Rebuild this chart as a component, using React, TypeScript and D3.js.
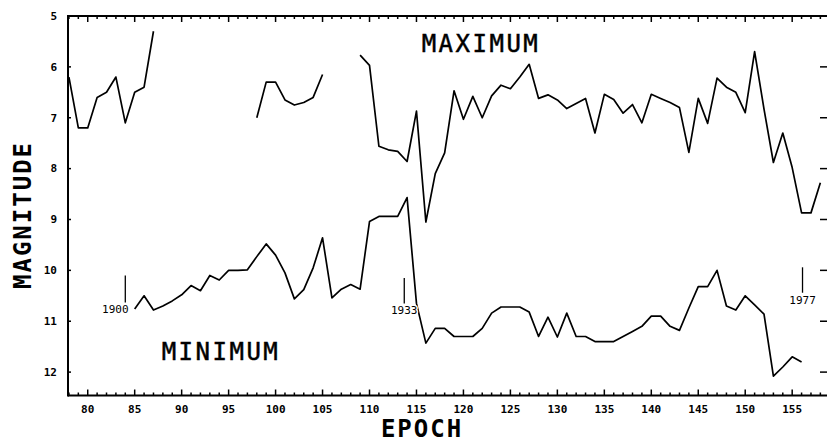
import React from 'react';
import * as d3 from 'd3';

const width = 827;
const height = 442;

// maximum light, three observed stretches
const maxEpochA = [78, 79, 80, 81, 82, 83, 84, 85, 86, 87];
const maxMagA = [6.2, 7.2, 7.2, 6.6, 6.5, 6.2, 7.1, 6.5, 6.4, 5.3];

const maxEpochB = [98, 99, 100, 101, 102, 103, 104, 105];
const maxMagB = [7.0, 6.3, 6.3, 6.65, 6.75, 6.7, 6.6, 6.15];

const maxEpochC = [109, 110, 111, 112, 113, 114, 115, 116, 117, 118, 119, 120, 121, 122, 123, 124, 125, 126, 127, 128, 129, 130, 131, 132, 133, 134, 135, 136, 137, 138, 139, 140, 141, 142, 143, 144, 145, 146, 147, 148, 149, 150, 151, 152, 153, 154, 155, 156, 157, 158];
const maxMagC = [5.77, 5.97, 7.56, 7.63, 7.66, 7.86, 6.87, 9.05, 8.1, 7.69, 6.47, 7.03, 6.58, 7.0, 6.57, 6.36, 6.43, 6.2, 5.95, 6.62, 6.55, 6.65, 6.82, 6.72, 6.62, 7.3, 6.54, 6.64, 6.91, 6.74, 7.1, 6.54, 6.62, 6.7, 6.8, 7.68, 6.62, 7.11, 6.22, 6.4, 6.5, 6.9, 5.7, 6.83, 7.88, 7.3, 7.98, 8.87, 8.87, 8.28];

// minimum light
const minEpoch = [85, 86, 87, 88, 89, 90, 91, 92, 93, 94, 95, 96, 97, 98, 99, 100, 101, 102, 103, 104, 105, 106, 107, 108, 109, 110, 111, 112, 113, 114, 115, 116, 117, 118, 119, 120, 121, 122, 123, 124, 125, 126, 127, 128, 129, 130, 131, 132, 133, 134, 135, 136, 137, 138, 139, 140, 141, 142, 143, 144, 145, 146, 147, 148, 149, 150, 151, 152, 153, 154, 155, 156];
const minMag = [10.76, 10.5, 10.78, 10.7, 10.6, 10.48, 10.3, 10.4, 10.1, 10.19, 10.0, 10.0, 9.99, 9.73, 9.48, 9.7, 10.05, 10.56, 10.38, 9.95, 9.36, 10.54, 10.37, 10.28, 10.37, 9.04, 8.94, 8.94, 8.94, 8.57, 10.65, 11.43, 11.14, 11.14, 11.3, 11.3, 11.3, 11.14, 10.84, 10.72, 10.72, 10.72, 10.82, 11.3, 10.92, 11.31, 10.84, 11.3, 11.3, 11.4, 11.4, 11.4, 11.3, 11.2, 11.1, 10.9, 10.9, 11.1, 11.18, 10.74, 10.32, 10.32, 10.0, 10.7, 10.78, 10.5, 10.68, 10.86, 12.08, 11.9, 11.7, 11.8];

// year markers
const markYears = ['1900', '1933', '1977'];
const markEpochs = [84, 113.7, 156.1];
const markTop = [10.1, 10.15, 9.94];
const markBottom = [10.63, 10.65, 10.44];

const xTicks = d3.range(80, 156, 5);
const yTicks = [5, 6, 7, 8, 9, 10, 11, 12];

const x = d3.scaleLinear().domain([77.9, 158.6]).range([68, 826]);
const y = d3.scaleLinear().domain([5, 12.46]).range([16, 395.5]);

const line = d3.line<[number, number]>()
  .x(d => x(d[0]))
  .y(d => y(d[1]));

const zip = (a: number[], b: number[]) => a.map((v, i) => [v, b[i]] as [number, number]);

const mono = '"DejaVu Sans Mono", monospace';

const App = () => {
  const series = [
    zip(maxEpochA, maxMagA),
    zip(maxEpochB, maxMagB),
    zip(maxEpochC, maxMagC),
    zip(minEpoch, minMag),
  ];
  const minorTicks = d3.range(78, 159);
  const x0 = 68, yTop = 16, yBot = 395.5;

  return (
    <svg width={width} height={height} style={{ position: 'absolute', left: 0, top: 0, background: '#fff' }}>
      {/* data */}
      {series.map((s, i) => (
        <path key={i} d={line(s) || ''} fill="none" stroke="#000" strokeWidth={1.7} strokeLinejoin="round" />
      ))}

      {/* year markers */}
      {markYears.map((yr, i) => (
        <g key={yr}>
          <line x1={x(markEpochs[i])} x2={x(markEpochs[i])} y1={y(markTop[i])} y2={y(markBottom[i])} stroke="#000" strokeWidth={1.3} />
          <text
            x={x(markEpochs[i]) + (i === 0 ? -10 : 0)}
            y={y(markBottom[i]) + 11}
            textAnchor="middle"
            fontFamily={mono}
            fontSize={11}
            stroke="#fff"
            strokeWidth={3}
            paintOrder="stroke"
            fill="#000"
          >{yr}</text>
        </g>
      ))}

      {/* frame */}
      <line x1={x0} x2={827} y1={yTop} y2={yTop} stroke="#000" strokeWidth={2} />
      <line x1={x0} x2={827} y1={yBot} y2={yBot} stroke="#000" strokeWidth={2} />
      <line x1={x0} x2={x0} y1={yTop - 1} y2={yBot + 1} stroke="#000" strokeWidth={2} />

      {/* epoch ticks */}
      {minorTicks.map(t => {
        const len = t % 5 === 0 ? 6 : 3;
        return (
          <g key={t}>
            <line x1={x(t)} x2={x(t)} y1={yBot} y2={yBot - len} stroke="#000" strokeWidth={1.5} />
            <line x1={x(t)} x2={x(t)} y1={yTop} y2={yTop + len} stroke="#000" strokeWidth={1.5} />
          </g>
        );
      })}
      {xTicks.map(t => (
        <text key={t} x={x(t)} y={413} textAnchor="middle" fontFamily={mono} fontWeight="bold" fontSize={11}>{t}</text>
      ))}

      {/* magnitude ticks */}
      {yTicks.map(t => (
        <g key={t}>
          <line x1={x0} x2={x0 + 3} y1={y(t)} y2={y(t)} stroke="#000" strokeWidth={1.5} />
          {t > 5 && <line x1={820} x2={827} y1={y(t)} y2={y(t)} stroke="#000" strokeWidth={1.5} />}
          <text x={57} y={y(t)} dy="0.35em" textAnchor="end" fontFamily={mono} fontWeight="bold" fontSize={11}>{t}</text>
        </g>
      ))}

      {/* labels */}
      <text x={422} y={437} textAnchor="middle" fontFamily={mono} fontWeight="bold" fontSize={24} letterSpacing={2}>EPOCH</text>
      <text transform="translate(31,215) rotate(-90)" textAnchor="middle" fontFamily={mono} fontWeight="bold" fontSize={24} letterSpacing={2}>MAGNITUDE</text>
      <text x={481} y={52} textAnchor="middle" fontFamily={mono} fontSize={24} letterSpacing={2.5} stroke="#000" strokeWidth={0.5}>MAXIMUM</text>
      <text x={221} y={360} textAnchor="middle" fontFamily={mono} fontSize={24} letterSpacing={2.5} stroke="#000" strokeWidth={0.5}>MINIMUM</text>
    </svg>
  );
};

export default App;
